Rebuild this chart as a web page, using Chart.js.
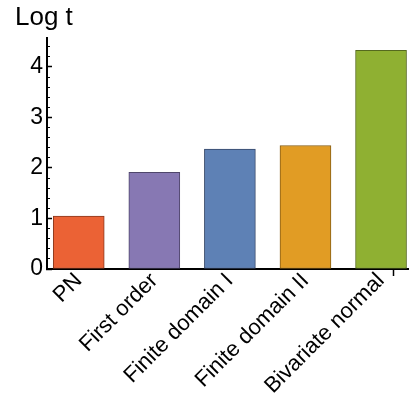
<!DOCTYPE html>
<html><head><meta charset="utf-8">
<script src="https://cdn.jsdelivr.net/npm/chart.js@4/dist/chart.umd.min.js"></script>
<style>html,body{margin:0;padding:0;background:#fff;} canvas{display:block;}</style>
</head><body>
<canvas id="c" width="409" height="405"></canvas>
<script>
const categories = ['PN', 'First order', 'Finite domain I', 'Finite domain II', 'Bivariate normal'];
const logT = [1.05, 1.915, 2.375, 2.445, 4.33];
const yTickValues = [0, 1, 2, 3, 4];
const axisTitle = 'Log t';
const fillColors = ['#EB6235', '#8778B3', '#5E81B5', '#E19C24', '#8FB032'];
const edgeColors = ['#8a3a1f', '#4f466b', '#37496a', '#855c15', '#55691e'];

const FONT = "'Liberation Sans', Arial, Helvetica, sans-serif";
const positions = categories.map((_, i) => i + 1);
const xEdgeTicks = [0.6625, 5.3375];

new Chart(document.getElementById('c'), {
  type: 'bar',
  data: {
    datasets: [{
      data: positions.map((x, i) => ({ x: x, y: logT[i] })),
      backgroundColor: fillColors,
      borderColor: edgeColors,
      borderWidth: 1,
      borderSkipped: false,
      barThickness: 51,
      xAxisID: 'x',
      yAxisID: 'y'
    }]
  },
  options: {
    responsive: false,
    animation: false,
    devicePixelRatio: 1,
    layout: { padding: { left: 15, right: 0, top: 0, bottom: 0 } },
    plugins: {
      legend: { display: false },
      tooltip: { enabled: false },
      title: {
        display: true, text: axisTitle, align: 'start', color: '#000',
        font: { family: FONT, size: 26, weight: 'normal' },
        padding: { top: 2, bottom: 5 }
      }
    },
    scales: {
      x: {
        type: 'linear', min: 0.58, max: 5.37, offset: false,
        afterBuildTicks: s => { s.ticks = [xEdgeTicks[0], ...positions, xEdgeTicks[1]].map(v => ({ value: v })); },
        afterFit: s => { s.height = 136; s.paddingLeft = 0; s.paddingRight = 0; },
        ticks: {
          autoSkip: false, minRotation: 45, maxRotation: 45, padding: -8, color: '#000',
          font: { family: FONT, size: 22 },
          callback: v => Number.isInteger(v) ? categories[v - 1] : ''
        },
        grid: {
          drawOnChartArea: false, tickLength: 7, tickWidth: 1.5,
          tickColor: ctx => (ctx.tick && Number.isInteger(ctx.tick.value)) ? 'rgba(0,0,0,0)' : '#000'
        },
        border: { display: true, color: '#000', width: 2 }
      },
      y: {
        type: 'linear', position: 'left', weight: 1, min: 0, max: 4.57,
        afterBuildTicks: s => { s.ticks = yTickValues.map(v => ({ value: v })); },
        afterFit: s => { s.width = 32; s.paddingTop = 0; s.paddingBottom = 0; },
        ticks: { padding: 9, color: '#000', font: { family: FONT, size: 23 } },
        grid: { drawOnChartArea: false, tickLength: -5, tickWidth: 1.5, tickColor: '#000' },
        border: { display: true, color: '#000', width: 2 }
      },
      yMinor: {
        type: 'linear', position: 'left', weight: 0, min: 0, max: 4.57,
        afterFit: s => { s.width = 0; s.paddingTop = 0; s.paddingBottom = 0; },
        ticks: { display: false, stepSize: 0.2, includeBounds: false },
        grid: { drawOnChartArea: false, tickLength: -3, tickWidth: 1, tickColor: '#000' },
        border: { display: false }
      }
    }
  }
});
</script>
</body></html>
